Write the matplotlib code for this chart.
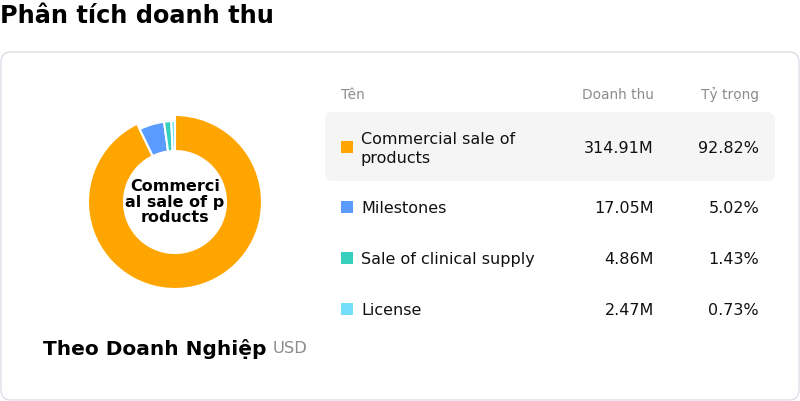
import matplotlib
matplotlib.use('Agg')
import matplotlib.pyplot as plt
from matplotlib.patches import FancyBboxPatch, Rectangle

# data
names = ['Commercial sale of\nproducts', 'Milestones', 'Sale of clinical supply', 'License']
revenue = [314.91, 17.05, 4.86, 2.47]
shares = ['92.82%', '5.02%', '1.43%', '0.73%']
colors = ['#FFA500', '#5B9BFF', '#36CFBE', '#74DEFB']
center_label = 'Commerci\nal sale of p\nroducts'

plt.rcParams['font.family'] = ['DejaVu Sans']
fig = plt.figure(figsize=(8, 4.02), dpi=100)

# background axes in pixel coords
bg = fig.add_axes([0, 0, 1, 1])
bg.set_xlim(0, 800)
bg.set_ylim(402, 0)
bg.axis('off')

bg.text(0, 16, 'Phân tích doanh thu', fontsize=17.3, fontweight='bold', va='center', ha='left')

card = FancyBboxPatch((1, 53), 798, 348, boxstyle='round,pad=0,rounding_size=10',
                      facecolor='white', edgecolor='#dedde8', linewidth=1)
bg.add_patch(card)
hl = FancyBboxPatch((325, 113), 450, 69, boxstyle='round,pad=0,rounding_size=8',
                    facecolor='#f5f5f5', edgecolor='none')
bg.add_patch(hl)

# table header
gray = '#8c8c8c'
bg.text(341, 95, 'Tên', fontsize=9.9, color=gray, va='center')
bg.text(654, 95, 'Doanh thu', fontsize=9.9, color=gray, va='center', ha='right')
bg.text(759, 95, 'Tỷ trọng', fontsize=9.9, color=gray, va='center', ha='right')

row_y = [148, 208, 259, 310]
for i in range(len(names)):
    y = row_y[i]
    bg.add_patch(Rectangle((341, y - 6), 12, 12, facecolor=colors[i], edgecolor='none'))
    bg.text(361, y + 1, names[i], fontsize=11.5, color='#111111', va='center', linespacing=1.3)
    bg.text(654, y + 1, f'{revenue[i]:.2f}M', fontsize=11.5, color='#111111', va='center', ha='right')
    bg.text(759, y + 1, shares[i], fontsize=11.5, color='#111111', va='center', ha='right')

# footer
bg.text(43, 349, 'Theo Doanh Nghiệp', fontsize=14.5, fontweight='bold', va='center')
bg.text(273, 349, 'USD', fontsize=11.8, color=gray, va='center')

# donut
cx, cy, size = 175, 203, 200
ax = fig.add_axes([(cx - size / 2) / 800, (402 - cy - size / 2) / 402, size / 800, size / 402])
wedges, _ = ax.pie(revenue, colors=colors, startangle=90, counterclock=False, radius=81,
                   wedgeprops=dict(width=30, edgecolor='white', linewidth=1.5))
wedges[0].set_radius(87)
wedges[0].set_width(36)
ax.set_xlim(-100, 100)
ax.set_ylim(-100, 100)
ax.set_aspect('equal')
ax.axis('off')
ax.text(0, 1, center_label, ha='center', va='center', fontsize=11.5, fontweight='bold',
        linespacing=1.05)

fig.savefig('out.png', dpi=100)
